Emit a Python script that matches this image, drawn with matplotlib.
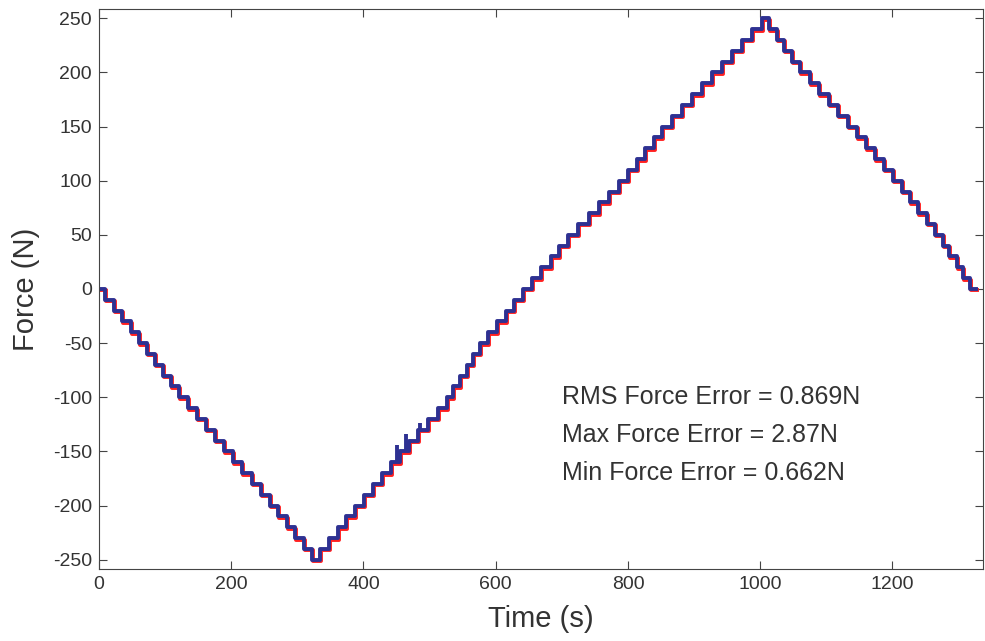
import numpy as np
import matplotlib
matplotlib.use("Agg")
import matplotlib.pyplot as plt
import matplotlib.transforms as mtransforms

plt.rcParams['font.family'] = ['Liberation Sans', 'DejaVu Sans']
plt.rcParams['axes.unicode_minus'] = False

# step start times (s) and force levels (N) of the commanded staircase
step_times = [0, 9, 22, 35, 48, 61, 73, 85, 97, 109, 121, 135, 148, 162, 175,
              189, 203, 217, 231, 245, 258, 271, 284, 297, 310, 322,
              335, 348, 361, 374, 387, 401, 414, 428, 441, 455, 469, 483, 498,
              512, 526, 536, 546, 556, 566, 576, 589, 602, 615, 628, 641, 655,
              669, 683, 696, 710, 725, 741, 756, 772, 787, 800, 813, 826, 839,
              852, 867, 882, 897, 912, 927, 942, 957, 973, 988, 1003,
              1013, 1025, 1036, 1048, 1060, 1075, 1089, 1104, 1118, 1133, 1147,
              1160, 1174, 1187, 1201, 1214, 1226, 1239, 1252, 1265, 1276, 1286,
              1297, 1307, 1318, 1327]
step_levels = [0, -10, -20, -30, -40, -50, -60, -70, -80, -90, -100, -110, -120,
               -130, -140, -150, -160, -170, -180, -190, -200, -210, -220, -230,
               -240, -250,
               -240, -230, -220, -210, -200, -190, -180, -170, -160, -150, -140,
               -130, -120, -110, -100, -90, -80, -70, -60, -50, -40, -30, -20,
               -10, 0, 10, 20, 30, 40, 50, 60, 70, 80, 90, 100, 110, 120, 130,
               140, 150, 160, 170, 180, 190, 200, 210, 220, 230, 240, 250,
               240, 230, 220, 210, 200, 190, 180, 170, 160, 150, 140, 130, 120,
               110, 100, 90, 80, 70, 60, 50, 40, 30, 20, 10, 0, 0]

# short spikes in the measured force
spike_times = [451, 464, 486]
spike_base = [-160, -150, -132]
spike_top = [-144, -134, -124]

stats_text = ["RMS Force Error = 0.869N",
              "Max Force Error = 2.87N",
              "Min Force Error = 0.662N"]

fig = plt.figure(figsize=(9.85, 6.41), dpi=100)
ax = fig.add_axes([0.1005, 0.1123, 0.8975, 0.8737])

# reference (red) drawn a hair below the measured (blue) trace
red_tr = mtransforms.offset_copy(ax.transData, fig=fig, x=1.0, y=-1.5, units='dots')
ax.step(step_times, step_levels, where='post', color='#ff2020', lw=2.8,
        solid_joinstyle='round', transform=red_tr)
ax.step(step_times, step_levels, where='post', color='#2e3192', lw=2.8,
        solid_joinstyle='round')
ax.vlines(spike_times, spike_base, spike_top, color='#2e3192', lw=2.8)

for i, s in enumerate(stats_text):
    ax.text(700, -100 - 35 * i, s, fontsize=18, color='#333333', va='center')

ax.set_xlim(0, 1337)
ax.set_ylim(-258.5, 258.5)
ax.set_xticks(np.arange(0, 1201, 200))
ax.set_yticks(np.arange(-250, 251, 50))
ax.tick_params(direction='in', top=True, right=True, length=6, width=0.8,
               labelsize=14, labelcolor='#333333', color='#444444', pad=5)
for sp in ax.spines.values():
    sp.set_color('#444444')
    sp.set_linewidth(0.8)
ax.set_xlabel("Time (s)", fontsize=21, color='#333333', labelpad=9)
ax.set_ylabel("Force (N)", fontsize=21, color='#333333', labelpad=9)

fig.savefig("out.png", dpi=100)
